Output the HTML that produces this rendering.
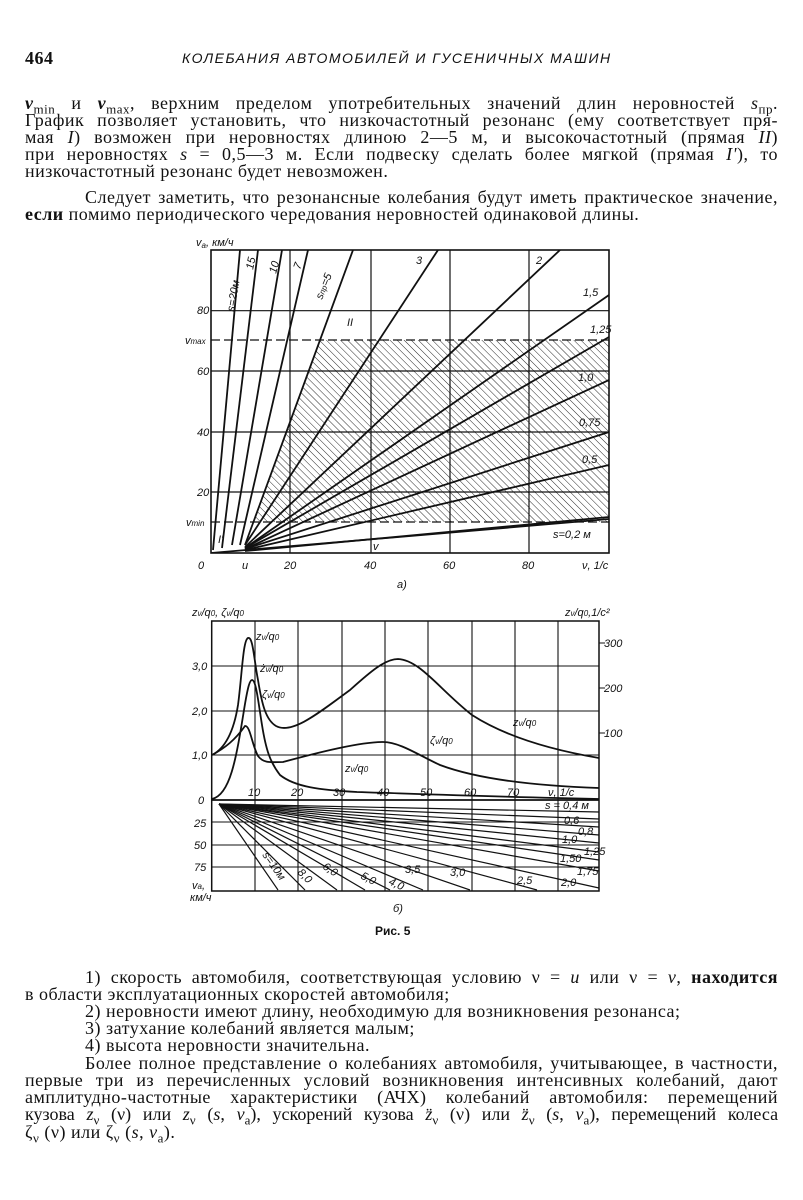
<!DOCTYPE html>
<html><head><meta charset="utf-8">
<style>
body{margin:0;background:#fff;}
#pg{position:relative;width:803px;height:1200px;overflow:hidden;background:#fff;font-family:"Liberation Serif","Noto Serif CJK SC",serif;color:#111;}
.l{position:absolute;left:25px;width:753px;font-size:18px;letter-spacing:0.5px;line-height:17px;text-align:justify;text-align-last:justify;white-space:nowrap;}
.l sub{line-height:0;font-size:13px;}
.n{text-align-last:auto;}
svg{position:absolute;left:0;top:0;}
svg text{font-family:"Liberation Sans",sans-serif;font-style:italic;font-size:11px;fill:#111;}
</style></head><body><div id="pg">
<div class="l" style="top:50px;font-size:18px;font-weight:bold;text-align-last:auto">464<span style="position:absolute;left:157px;font-weight:normal;font-style:italic;letter-spacing:1.5px;font-family:'Liberation Sans',sans-serif;font-size:14px">КОЛЕБАНИЯ АВТОМОБИЛЕЙ И ГУСЕНИЧНЫХ МАШИН</span></div>
<div class="l" style="top:95px"><b><i>v</i></b><sub>min</sub> и <b><i>v</i></b><sub>max</sub>, верхним пределом употребительных значений длин неровностей <i>s</i><sub>пр</sub>.</div>
<div class="l" style="top:112px">График позволяет установить, что низкочастотный резонанс (ему соответствует пря-</div>
<div class="l" style="top:129px">мая <i>I</i>) возможен при неровностях длиною 2—5 м, и высокочастотный (прямая <i>II</i>)</div>
<div class="l" style="top:146px">при неровностях <i>s</i> = 0,5—3 м. Если подвеску сделать более мягкой (прямая <i>I'</i>), то</div>
<div class="l n" style="top:163px">низкочастотный резонанс будет невозможен.</div>
<div class="l" style="top:189px;left:85px;width:693px">Следует заметить, что резонансные колебания будут иметь практическое значение,</div>
<div class="l n" style="top:206px"><b>если</b> помимо периодического чередования неровностей одинаковой длины.</div>

<svg width="803" height="1200" viewBox="0 0 803 1200">
<defs>
<pattern id="h" width="5" height="5" patternUnits="userSpaceOnUse" patternTransform="rotate(-45)">
<line x1="0" y1="0" x2="0" y2="5" stroke="#111" stroke-width="0.9"/></pattern>
<clipPath id="c1"><rect x="211" y="250" width="398" height="303"/></clipPath>
</defs>
<polygon points="253,522 320,340 609,340 609,522" fill="url(#h)"/>
<g stroke="#111" stroke-width="1.2" fill="none">
<rect x="211" y="250" width="398" height="303" stroke-width="1.6"/>
<path d="M290,250V553M371,250V553M450,250V553M529,250V553M211,310.7H609M211,371H609M211,432H609M211,492H609"/>
<path d="M211,340H609M211,522H609" stroke-dasharray="9,4"/>
</g>
<g stroke="#111" stroke-width="1.8" clip-path="url(#c1)">
<line x1="213" y1="550" x2="240" y2="250"/>
<line x1="222" y1="548" x2="258" y2="250"/>
<line x1="232" y1="545" x2="282" y2="250"/>
<line x1="240" y1="545" x2="308" y2="250"/>
<line x1="245" y1="545" x2="353" y2="250"/>
<line x1="245" y1="545" x2="438" y2="250"/>
<line x1="245" y1="547" x2="560" y2="250"/>
<line x1="245" y1="548" x2="609" y2="295"/>
<line x1="245" y1="548" x2="609" y2="337"/>
<line x1="245" y1="549" x2="609" y2="380"/>
<line x1="245" y1="549" x2="609" y2="432"/>
<line x1="245" y1="550" x2="609" y2="465"/>
<line x1="245" y1="551" x2="609" y2="517"/>
<line x1="211" y1="553" x2="609" y2="519"/>
</g>
<text x="196" y="246">v<tspan font-size="8" dy="2">a</tspan><tspan dy="-2">, км/ч</tspan></text>
<text x="197" y="314">80</text><text x="197" y="375">60</text><text x="197" y="436">40</text><text x="197" y="496">20</text>
<text x="185" y="344">v<tspan font-size="8">max</tspan></text><text x="186" y="526">v<tspan font-size="8">min</tspan></text>
<text x="198" y="569">0</text><text x="242" y="569">u</text><text x="284" y="569">20</text><text x="364" y="569">40</text><text x="443" y="569">60</text><text x="522" y="569">80</text><text x="582" y="569">ν, 1/c</text>
<text x="397" y="588">а)</text>
<text transform="translate(234,312) rotate(-80)">s=20м</text>
<text transform="translate(253,270) rotate(-78)">15</text>
<text transform="translate(276,274) rotate(-75)">10</text>
<text transform="translate(300,270) rotate(-70)">7</text>
<text transform="translate(322,300) rotate(-68)">s<tspan font-size="8">пр</tspan>=5</text>
<text x="416" y="264">3</text><text x="536" y="264">2</text><text x="583" y="296">1,5</text>
<text x="590" y="333">1,25</text><text x="578" y="381">1,0</text><text x="579" y="426">0,75</text><text x="582" y="463">0,5</text>
<text x="553" y="538">s=0,2 м</text><text x="347" y="326">II</text><text x="373" y="550">v</text><text x="218" y="543">I'</text>
<g stroke="#111" stroke-width="1.1" fill="none">
<rect x="211.7" y="621" width="387.3" height="270" stroke-width="1.5"/>
<path d="M255,621V891M298,621V891M342,621V891M385,621V891M428,621V891M472,621V891M515,621V891M558,621V891M211,666H599M211,711H599M211,755H599M211,822H599M211,845H599M211,867H599"/>
<path d="M211,800H599" stroke-width="1.8"/>
<path d="M599,643h6M599,688h6M599,733h6"/>
</g>
<g stroke="#111" stroke-width="1.8" fill="none">
<path d="M212,755 C226,748 234,730 238,705 C242,675 243,640 248,638 C253,636 254,660 258,680 C262,705 266,720 276,726 C292,735 320,712 350,690 C370,672 385,659 398,659 C420,660 440,690 472,715 C500,733 540,748 599,758"/>
<path d="M212,799 C230,795 236,760 244,710 C248,685 250,680 252,680 C256,680 258,700 262,725 C266,750 270,762 280,775 C295,787 320,790 357,792 C420,794 500,797 599,799"/>
<path d="M212,755 C225,748 235,740 245,726 C250,725 252,745 258,756 C264,764 272,762 283,762 C320,752 360,742 383,742 C400,742 420,756 440,765 C480,780 540,786 599,788"/>
</g>
<g stroke="#111" stroke-width="1.2">
<line x1="219" y1="804" x2="278" y2="890"/><line x1="219" y1="804" x2="305" y2="890"/>
<line x1="219" y1="804" x2="337" y2="890"/><line x1="219" y1="804" x2="365" y2="890"/>
<line x1="219" y1="804" x2="390" y2="890"/><line x1="219" y1="804" x2="423" y2="890"/>
<line x1="219" y1="804" x2="470" y2="890"/><line x1="219" y1="804" x2="537" y2="890"/>
<line x1="219" y1="804" x2="599" y2="888"/><line x1="219" y1="804" x2="599" y2="871"/>
<line x1="219" y1="804" x2="599" y2="860"/><line x1="219" y1="804" x2="599" y2="852"/>
<line x1="219" y1="804" x2="599" y2="843"/><line x1="219" y1="804" x2="599" y2="835"/>
<line x1="219" y1="804" x2="599" y2="827"/><line x1="219" y1="804" x2="599" y2="819"/>
<line x1="219" y1="804" x2="599" y2="812"/>
</g>
<text x="192" y="616">z<tspan font-size="8">ν</tspan>/q<tspan font-size="8">0</tspan>, ζ<tspan font-size="8">ν</tspan>/q<tspan font-size="8">0</tspan></text>
<text x="565" y="616">z<tspan font-size="8">ν</tspan>/q<tspan font-size="8">0</tspan>,1/c²</text>
<text x="192" y="670">3,0</text><text x="192" y="715">2,0</text><text x="192" y="759">1,0</text><text x="198" y="804">0</text>
<text x="604" y="647">300</text><text x="604" y="692">200</text><text x="604" y="737">100</text>
<text x="248" y="796">10</text><text x="291" y="796">20</text><text x="333" y="796">30</text><text x="377" y="796">40</text><text x="420" y="796">50</text><text x="464" y="796">60</text><text x="507" y="796">70</text><text x="548" y="796">ν, 1/c</text>
<text x="256" y="640">z<tspan font-size="8">ν</tspan>/q<tspan font-size="8">0</tspan></text>
<text x="260" y="672">ż<tspan font-size="8">ν</tspan>/q<tspan font-size="8">0</tspan></text>
<text x="262" y="698">ζ<tspan font-size="8">ν</tspan>/q<tspan font-size="8">0</tspan></text>
<text x="513" y="726">z<tspan font-size="8">ν</tspan>/q<tspan font-size="8">0</tspan></text>
<text x="430" y="744">ζ<tspan font-size="8">ν</tspan>/q<tspan font-size="8">0</tspan></text>
<text x="345" y="772">z<tspan font-size="8">ν</tspan>/q<tspan font-size="8">0</tspan></text>
<text x="194" y="827">25</text><text x="194" y="849">50</text><text x="194" y="871">75</text>
<text x="192" y="889">v<tspan font-size="8">a</tspan>,</text><text x="190" y="901">км/ч</text>
<text x="545" y="809">s = 0,4 м</text><text x="564" y="824">0,6</text><text x="578" y="835">0,8</text><text x="562" y="843">1,0</text>
<text x="584" y="855">1,25</text><text x="560" y="862">1,50</text><text x="577" y="875">1,75</text><text x="561" y="886">2,0</text>
<text x="517" y="884">2,5</text><text x="450" y="876">3,0</text><text x="405" y="873">3,5</text>
<text transform="translate(388,884) rotate(25)">4,0</text><text transform="translate(360,878) rotate(28)">5,0</text>
<text transform="translate(322,868) rotate(35)">6,0</text><text transform="translate(297,873) rotate(45)">8,0</text>
<text transform="translate(262,855) rotate(55)">s=10м</text>
<text x="393" y="912">б)</text>
<text x="375" y="935" style="font-style:normal;font-weight:bold;font-size:12px">Рис. 5</text>
</svg>

<div class="l" style="top:969px;left:85px;width:693px">1) скорость автомобиля, соответствующая условию ν = <i>u</i> или ν = <i>v</i>, <b>находится</b></div>
<div class="l n" style="top:986px">в области эксплуатационных скоростей автомобиля;</div>
<div class="l n" style="top:1003px;left:85px">2) неровности имеют длину, необходимую для возникновения резонанса;</div>
<div class="l n" style="top:1020px;left:85px">3) затухание колебаний является малым;</div>
<div class="l n" style="top:1037px;left:85px">4) высота неровности значительна.</div>
<div class="l" style="top:1055px;left:85px;width:693px">Более полное представление о колебаниях автомобиля, учитывающее, в частности,</div>
<div class="l" style="top:1072px">первые три из перечисленных условий возникновения интенсивных колебаний, дают</div>
<div class="l" style="top:1089px">амплитудно-частотные характеристики (АЧХ) колебаний автомобиля: перемещений</div>
<div class="l" style="top:1106px;letter-spacing:0">кузова <i>z</i><sub>ν</sub> (ν) или <i>z</i><sub>ν</sub> (<i>s</i>, <i>v</i><sub>a</sub>), ускорений кузова <i>z̈</i><sub>ν</sub> (ν) или <i>z̈</i><sub>ν</sub> (<i>s</i>, <i>v</i><sub>a</sub>), перемещений колеса</div>
<div class="l n" style="top:1124px">ζ<sub>ν</sub> (ν) или ζ<sub>ν</sub> (<i>s</i>, <i>v</i><sub>a</sub>).</div>
</div></body></html>
